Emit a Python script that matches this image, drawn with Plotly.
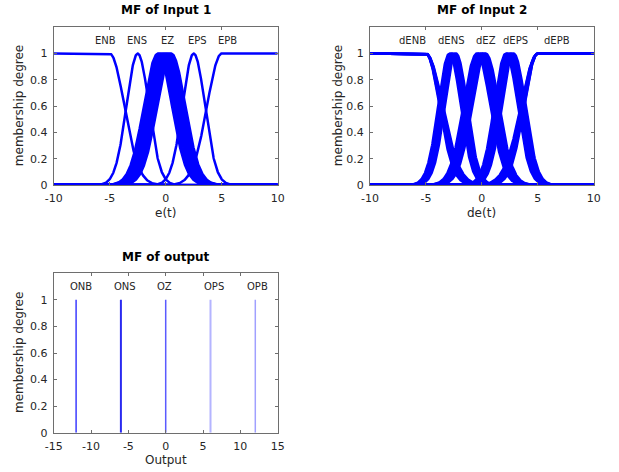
import numpy as np
import plotly.graph_objects as go

# ---------------- data ----------------
x_grid = np.linspace(-10, 10, 801)
x_ticks_in = [-10, -5, 0, 5, 10]
x_ticktext_in = ["-10", "-5", "0", "5", "10"]
x_ticks_out = [-15, -10, -5, 0, 5, 10, 15]
x_ticktext_out = ["-15", "-10", "-5", "0", "5", "10", "15"]
y_ticks = [0, 0.2, 0.4, 0.6, 0.8, 1]
y_ticktext = ["0", "0.2", "0.4", "0.6", "0.8", "1"]

# Input 1 membership functions (gaussian parameters)
in1_labels = ["ENB", "ENS", "EZ", "EPS", "EPB"]
in1_label_x = [-5.4, -2.6, 0.2, 2.8, 5.5]
in1_enb_edge = -5.0
in1_enb_sigmas = [1.3]
in1_ens_centers = [-2.5]
in1_ens_sigma = 1.0
in1_ez_centers = [-0.7, -0.6, -0.5, -0.4, -0.3, -0.2, -0.1, 0.0, 0.1, 0.2, 0.3, 0.4, 0.5]
in1_ez_sigma = 1.25
in1_eps_centers = [2.5]
in1_eps_sigma = 1.0
in1_epb_edge = 5.0
in1_epb_sigmas = [1.3]

# Input 2 membership functions
in2_labels = ["dENB", "dENS", "dEZ", "dEPS", "dEPB"]
in2_label_x = [-6.2, -2.7, 0.4, 3.0, 6.7]
in2_enb_edge = -5.0
in2_enb_sigmas = [1.2, 1.25, 1.3, 1.35, 1.4, 1.45, 1.5]
in2_ens_centers = [-2.9, -2.8, -2.7, -2.6, -2.5, -2.4, -2.3]
in2_ens_sigma = 1.0
in2_ez_centers = [-0.45, -0.35, -0.25, -0.15, -0.05, 0.05, 0.15, 0.25, 0.35]
in2_ez_sigma = 1.2
in2_eps_centers = [2.15, 2.25, 2.35, 2.45, 2.55, 2.65, 2.75, 2.85]
in2_eps_sigma = 1.05
in2_epb_edge = 5.0
in2_epb_sigmas = [1.2, 1.25, 1.3, 1.35, 1.4, 1.45, 1.5]

# Output singletons
out_labels = ["ONB", "ONS", "OZ", "OPS", "OPB"]
out_centers = [-12, -6, 0, 6, 12]
out_label_x = [-11.3, -5.4, -0.2, 6.5, 12.3]
out_colors = ["#3c3cff", "#2a2af0", "#5a5aff", "#b4b4ff", "#a0a0ff"]
out_widths = [1.5, 2, 1.5, 2, 1.5]

# ---------------- styling ----------------
BLUE = "#0000ff"
LW = 2.5
TXT = "#262626"
AX = "#6e6e6e"
FONT = "DejaVu Sans"


def gauss(c, s):
    return np.exp(-0.5 * ((x_grid - c) / s) ** 2)


def zshape(edge, s):
    return np.where(x_grid <= edge, 1.0, np.exp(-0.5 * ((x_grid - edge) / s) ** 2))


def sshape(edge, s):
    return np.where(x_grid >= edge, 1.0, np.exp(-0.5 * ((x_grid - edge) / s) ** 2))


fig = go.Figure()


def add_curve(y, xa, ya):
    fig.add_trace(go.Scatter(x=x_grid, y=y, mode="lines", xaxis=xa, yaxis=ya,
                             line=dict(color=BLUE, width=LW), showlegend=False,
                             hoverinfo="skip"))


# Input 1
for s in in1_enb_sigmas:
    add_curve(zshape(in1_enb_edge, s), "x", "y")
for c in in1_ens_centers:
    add_curve(gauss(c, in1_ens_sigma), "x", "y")
for c in in1_ez_centers:
    add_curve(gauss(c, in1_ez_sigma), "x", "y")
for c in in1_eps_centers:
    add_curve(gauss(c, in1_eps_sigma), "x", "y")
for s in in1_epb_sigmas:
    add_curve(sshape(in1_epb_edge, s), "x", "y")

# Input 2
for s in in2_enb_sigmas:
    add_curve(zshape(in2_enb_edge, s), "x2", "y2")
for c in in2_ens_centers:
    add_curve(gauss(c, in2_ens_sigma), "x2", "y2")
for c in in2_ez_centers:
    add_curve(gauss(c, in2_ez_sigma), "x2", "y2")
for c in in2_eps_centers:
    add_curve(gauss(c, in2_eps_sigma), "x2", "y2")
for s in in2_epb_sigmas:
    add_curve(sshape(in2_epb_edge, s), "x2", "y2")

# Output
for c, col, w in zip(out_centers, out_colors, out_widths):
    fig.add_trace(go.Scatter(x=[c, c], y=[0, 1], mode="lines", xaxis="x3", yaxis="y3",
                             line=dict(color=col, width=w), showlegend=False,
                             hoverinfo="skip"))


def axis_style(dom, anchor, rng, tv, tt, standoff):
    return dict(domain=dom, anchor=anchor, range=rng, tickvals=tv, ticktext=tt,
                showline=True, linecolor=AX, linewidth=1, mirror="allticks",
                ticks="inside", ticklen=3, tickcolor=AX, showgrid=False,
                zeroline=False, tickfont=dict(family=FONT, size=11, color=TXT),
                ticklabelstandoff=standoff,
                fixedrange=True, automargin=False)


col1 = [53.7 / 619, 277.7 / 619]
col2 = [370 / 619, 593.7 / 619]
row1 = [1 - 185 / 472, 1 - 27.3 / 472]
row2 = [1 - 432.7 / 472, 1 - 273.3 / 472]

layout = dict(
    width=619, height=472, margin=dict(l=0, r=0, t=0, b=0, autoexpand=False),
    paper_bgcolor="white", plot_bgcolor="white", showlegend=False,
    font=dict(family=FONT, color=TXT),
    xaxis=axis_style(col1, "y", [-10, 10], x_ticks_in, x_ticktext_in, 3),
    yaxis=axis_style(row1, "x", [0, 1.2], y_ticks, y_ticktext, 3),
    xaxis2=axis_style(col2, "y2", [-10, 10], x_ticks_in, x_ticktext_in, 3),
    yaxis2=axis_style(row1, "x2", [0, 1.2], y_ticks, y_ticktext, 3),
    xaxis3=axis_style(col1, "y3", [-15, 15], x_ticks_out, x_ticktext_out, 3),
    yaxis3=axis_style(row2, "x3", [0, 1.2], y_ticks, y_ticktext, 3),
)
fig.update_layout(**layout)

ann = []
for lab, xx in zip(in1_labels, in1_label_x):
    ann.append(dict(x=xx, y=1.1, xref="x", yref="y", text=lab, showarrow=False,
                    xanchor="center", yanchor="middle",
                    font=dict(family=FONT, size=10, color=TXT)))
for lab, xx in zip(in2_labels, in2_label_x):
    ann.append(dict(x=xx, y=1.1, xref="x2", yref="y2", text=lab, showarrow=False,
                    xanchor="center", yanchor="middle",
                    font=dict(family=FONT, size=10, color=TXT)))
for lab, xx in zip(out_labels, out_label_x):
    ann.append(dict(x=xx, y=1.1, xref="x3", yref="y3", text=lab, showarrow=False,
                    xanchor="center", yanchor="middle",
                    font=dict(family=FONT, size=10, color=TXT)))

titles = [("MF of Input 1", (col1[0] + col1[1]) / 2, 1 - 10 / 472),
          ("MF of Input 2", (col2[0] + col2[1]) / 2, 1 - 10 / 472),
          ("MF of output", (col1[0] + col1[1]) / 2, 1 - 257 / 472)]
for t, xx, yy in titles:
    ann.append(dict(x=xx, y=yy, xref="paper", yref="paper", text="<b>%s</b>" % t,
                    xanchor="center", yanchor="middle",
                    showarrow=False, font=dict(family=FONT, size=12, color="black")))

xtitles = [("e(t)", (col1[0] + col1[1]) / 2, 1 - 213 / 472),
           ("de(t)", (col2[0] + col2[1]) / 2, 1 - 213 / 472),
           ("Output", (col1[0] + col1[1]) / 2, 1 - 460 / 472)]
for t, xx, yy in xtitles:
    ann.append(dict(x=xx, y=yy, xref="paper", yref="paper", text=t, showarrow=False,
                    xanchor="center", yanchor="middle",
                    font=dict(family=FONT, size=12, color=TXT)))

ytitles = [(19 / 619, (row1[0] + row1[1]) / 2),
           (338 / 619, (row1[0] + row1[1]) / 2),
           (19 / 619, (row2[0] + row2[1]) / 2)]
for xx, yy in ytitles:
    ann.append(dict(x=xx, y=yy, xref="paper", yref="paper", text="membership degree",
                    textangle=-90, showarrow=False, xanchor="center", yanchor="middle",
                    font=dict(family=FONT, size=12, color=TXT)))

fig.update_layout(annotations=ann)
fig.write_html("out.html")
